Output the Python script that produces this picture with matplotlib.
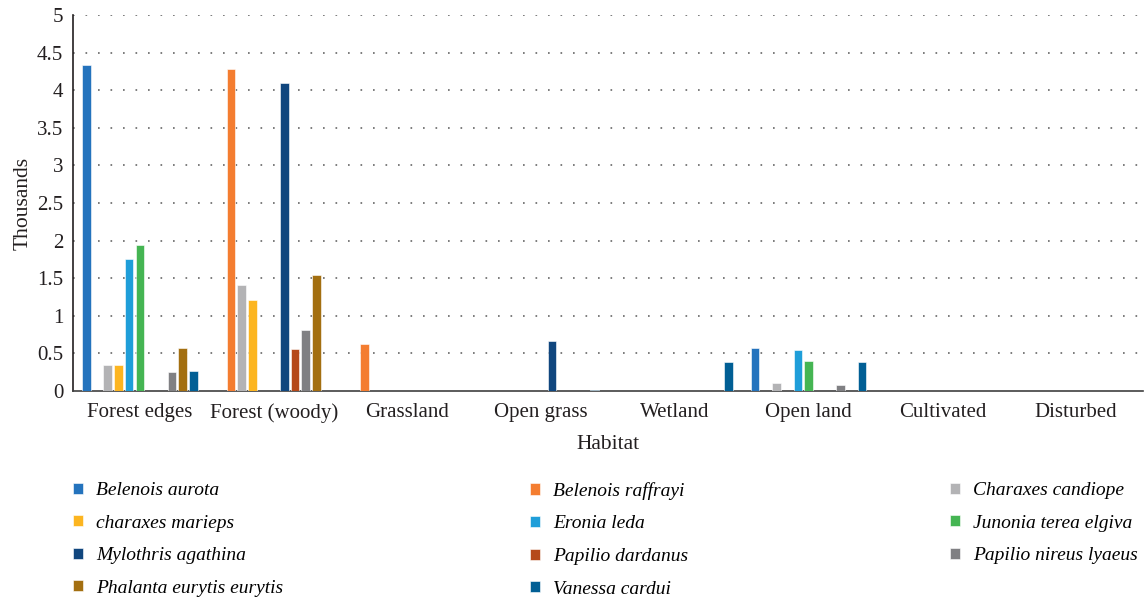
import matplotlib
matplotlib.use("Agg")
import matplotlib.pyplot as plt
import numpy as np

habitats = ["Forest edges", "Forest (woody)", "Grassland", "Open grass",
            "Wetland", "Open land", "Cultivated", "Disturbed"]
species = ["Belenois aurota", "Belenois raffrayi", "Charaxes candiope",
           "charaxes marieps", "Eronia leda", "Junonia terea elgiva",
           "Mylothris agathina", "Papilio dardanus", "Papilio nireus lyaeus",
           "Phalanta eurytis eurytis", "Vanessa cardui"]
colors = ["#2473BD", "#F47D30", "#B3B3B5", "#FCB520", "#1F9ED9", "#45B553",
          "#10467E", "#B5491A", "#808083", "#A36F10", "#015F95"]

# values in thousands, per species across habitats
belenois_aurota = [4.33, 0, 0, 0, 0, 0.57, 0, 0]
belenois_raffrayi = [0, 4.28, 0.625, 0, 0, 0, 0, 0]
charaxes_candiope = [0.35, 1.41, 0, 0, 0, 0.10, 0, 0]
charaxes_marieps = [0.34, 1.21, 0, 0, 0, 0, 0, 0]
eronia_leda = [1.755, 0, 0, 0, 0, 0.54, 0, 0]
junonia_terea_elgiva = [1.94, 0, 0, 0, 0, 0.40, 0, 0]
mylothris_agathina = [0, 4.10, 0, 0.67, 0, 0, 0, 0]
papilio_dardanus = [0, 0.56, 0, 0, 0, 0, 0, 0]
papilio_nireus_lyaeus = [0.25, 0.81, 0, 0, 0, 0.085, 0, 0]
phalanta_eurytis = [0.57, 1.54, 0, 0, 0, 0, 0, 0]
vanessa_cardui = [0.26, 0, 0, 0.015, 0.385, 0.385, 0, 0]

values = [belenois_aurota, belenois_raffrayi, charaxes_candiope, charaxes_marieps,
          eronia_leda, junonia_terea_elgiva, mylothris_agathina, papilio_dardanus,
          papilio_nireus_lyaeus, phalanta_eurytis, vanessa_cardui]

yticks = [0, 0.5, 1, 1.5, 2, 2.5, 3, 3.5, 4, 4.5, 5]
ytick_labels = ["0", "0.5", "1", "1.5", "2", "2.5", "3", "3.5", "4", "4.5", "5"]

plt.rcParams["font.family"] = ["Liberation Serif", "DejaVu Serif"]
TXT = "#231f20"

fig = plt.figure(figsize=(11.46, 6.01), dpi=100)
ax = fig.add_axes([73/1146, 1-391/601, (1143-73)/1146, (391-15)/601])

x = np.arange(len(habitats))
step = 0.08
width = 0.064
handles = []
for i, (sp, vals, c) in enumerate(zip(species, values, colors)):
    h = ax.bar(x + (i - 5) * step, vals, width=width, color=c,
               edgecolor="white", linewidth=0.4, label=sp, zorder=3)
    handles.append(h)

ax.set_xlim(-0.5, len(habitats) - 0.5)
ax.set_ylim(0, 5)
ax.set_yticks(yticks)
ax.set_yticklabels(ytick_labels, fontsize=15, color=TXT)
ax.set_xticks(x)
ax.set_xticklabels(habitats, fontsize=15, color=TXT)
ax.tick_params(axis="both", length=0)
ax.tick_params(axis="x", pad=8.5)
ax.tick_params(axis="y", pad=7)

for y in yticks[1:]:
    ax.axhline(y, color="#666666", linestyle=(0, (1, 6.5)), linewidth=1.2, zorder=1)

for s in ["top", "right"]:
    ax.spines[s].set_visible(False)
ax.spines["left"].set_color(TXT)
ax.spines["left"].set_linewidth(1.2)
ax.spines["bottom"].set_color("#404040")
ax.spines["bottom"].set_linewidth(1.2)

ax.set_ylabel("Thousands", fontsize=15.5, color=TXT, labelpad=3)
ax.set_xlabel("Habitat", fontsize=15.5, color=TXT, labelpad=9)

# Legend: three columns placed explicitly
cols = [[0, 3, 6, 9], [1, 4, 7, 10], [2, 5, 8]]
col_x = [73/1146, 530/1146, 950/1146]
for cx, idxs in zip(col_x, cols):
    fig.legend([handles[k] for k in idxs], [species[k] for k in idxs],
               loc="upper left", bbox_to_anchor=(cx, 1 - 482/601),
               frameon=False, prop={"style": "italic", "size": 14},
               handlelength=0.5, handleheight=0.5, handletextpad=0.7,
               labelspacing=0.8, borderaxespad=0, borderpad=0)

fig.savefig("out.png", dpi=100)
